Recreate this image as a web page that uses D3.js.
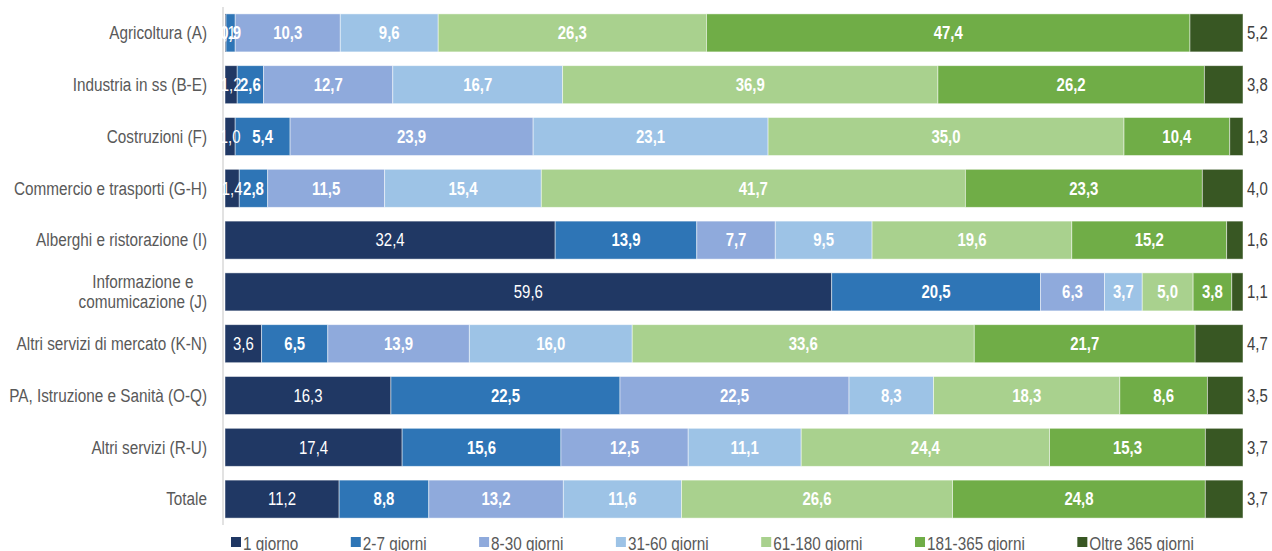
<!DOCTYPE html>
<html>
<head>
<meta charset="utf-8">
<script src="https://cdn.jsdelivr.net/npm/d3@7/dist/d3.min.js"></script>
<style>
  html, body { margin: 0; padding: 0; background: #fff; }
  svg { display: block; }
  text { font-family: "Liberation Sans Narrow", "Arial Narrow", "Liberation Sans", Arial, sans-serif; }
</style>
</head>
<body>
<svg id="chart" width="1272" height="551"></svg>
<script>
(function() {
  'use strict';

  // settori (righe del grafico)
  var categories = [
    'Agricoltura (A)',
    'Industria in ss (B-E)',
    'Costruzioni (F)',
    'Commercio e trasporti (G-H)',
    'Alberghi e ristorazione (I)',
    'Informazione e\ncomumicazione (J)',
    'Altri servizi di mercato (K-N)',
    'PA, Istruzione e Sanità (O-Q)',
    'Altri servizi (R-U)',
    'Totale'
  ];

  var seriesNames = ['1 giorno', '2-7 giorni', '8-30 giorni', '31-60 giorni',
    '61-180 giorni', '181-365 giorni', 'Oltre 365 giorni'];

  var giorno1   = [0.1, 1.2, 1.0, 1.4, 32.4, 59.6, 3.6, 16.3, 17.4, 11.2];
  var giorni2_7 = [0.9, 2.6, 5.4, 2.8, 13.9, 20.5, 6.5, 22.5, 15.6, 8.8];
  var giorni8_30 = [10.3, 12.7, 23.9, 11.5, 7.7, 6.3, 13.9, 22.5, 12.5, 13.2];
  var giorni31_60 = [9.6, 16.7, 23.1, 15.4, 9.5, 3.7, 16.0, 8.3, 11.1, 11.6];
  var giorni61_180 = [26.3, 36.9, 35.0, 41.7, 19.6, 5.0, 33.6, 18.3, 24.4, 26.6];
  var giorni181_365 = [47.4, 26.2, 10.4, 23.3, 15.2, 3.8, 21.7, 8.6, 15.3, 24.8];
  var oltre365 = [5.2, 3.8, 1.3, 4.0, 1.6, 1.1, 4.7, 3.5, 3.7, 3.7];

  var seriesValues = [giorno1, giorni2_7, giorni8_30, giorni31_60,
    giorni61_180, giorni181_365, oltre365];

  var colors = ['#203864', '#2e75b6', '#8faadc', '#9dc3e6', '#a9d18e', '#70ad47', '#385723'];

  var NARROW = 0.85; // no Arial Narrow here, squeeze the glyphs instead

  var svg = d3.select('#chart');
  var fmt = function(v) { return v.toFixed(1).replace('.', ','); };

  function condense(node, k) {
    var len = node.getComputedTextLength() * (k || NARROW);
    d3.select(node)
      .attr('textLength', len)
      .attr('lengthAdjust', 'spacingAndGlyphs');
    return len;
  }

  // table for d3.stack
  var rows = categories.map(function(c, i) {
    var r = { cat: c };
    seriesNames.forEach(function(s, j) { r[s] = seriesValues[j][i]; });
    return r;
  });

  var stack = d3.stack()
    .keys(seriesNames)
    .offset(d3.stackOffsetExpand);
  var layers = stack(rows);

  var x = d3.scaleLinear().domain([0, 1]).range([225, 1243]);
  var y = d3.scaleBand()
    .domain(categories)
    .range([7, 525])
    .paddingInner(0.266)
    .paddingOuter(0.133);

  // axis line
  svg.append('line')
    .attr('x1', 223).attr('x2', 223)
    .attr('y1', 7).attr('y2', 525)
    .attr('stroke', '#d9d9d9')
    .attr('stroke-width', 1.5);

  var g = svg.append('g');

  var layer = g.selectAll('g.layer')
    .data(layers)
    .enter().append('g')
    .attr('class', 'layer')
    .attr('fill', function(d, i) { return colors[i]; });

  layer.selectAll('rect')
    .data(function(d) { return d; })
    .enter().append('rect')
    .attr('x', function(d) { return x(d[0]); })
    .attr('y', function(d) { return y(d.data.cat); })
    .attr('width', function(d) { return x(d[1]) - x(d[0]); })
    .attr('height', y.bandwidth())
    .attr('stroke', '#ffffff')
    .attr('stroke-opacity', 0.6)
    .attr('stroke-width', 0.8);

  // value labels
  layers.forEach(function(L, i) {
    var last = i === layers.length - 1;
    g.append('g').selectAll('text')
      .data(L)
      .enter().append('text')
      .attr('x', function(d) { return last ? x(1) + 4 : (x(d[0]) + x(d[1])) / 2; })
      .attr('y', function(d) { return y(d.data.cat) + y.bandwidth() / 2; })
      .attr('dy', '0.35em')
      .attr('text-anchor', last ? 'start' : 'middle')
      .attr('font-size', 18)
      .attr('font-weight', (i === 0 || last) ? 'normal' : 'bold')
      .attr('fill', last ? '#404040' : '#ffffff')
      .text(function(d) { return fmt(d.data[L.key]); })
      .each(function() { condense(this, 0.83); });
  });

  // category labels (multi-line centred, block right aligned)
  var catG = svg.append('g');
  categories.forEach(function(c) {
    var lines = c.split('\n');
    var cy = y(c) + y.bandwidth() / 2;
    var t = catG.append('text')
      .attr('font-size', 18)
      .attr('fill', '#595959')
      .attr('text-anchor', 'middle');
    lines.forEach(function(l, k) {
      t.append('tspan')
        .attr('y', cy + (k - (lines.length - 1) / 2) * 20)
        .attr('dy', '0.35em')
        .text(l);
    });
    var w = 0;
    t.selectAll('tspan').each(function() { w = Math.max(w, condense(this)); });
    t.selectAll('tspan').attr('x', 207 - w / 2);
  });

  // legend
  var leg = svg.append('g');
  var lx = 231;
  seriesNames.forEach(function(s, i) {
    leg.append('rect')
      .attr('x', lx).attr('y', 537)
      .attr('width', 10).attr('height', 10)
      .attr('fill', colors[i]);
    var t = leg.append('text')
      .attr('x', lx + 12).attr('y', 550)
      .attr('font-size', 18)
      .attr('fill', '#595959')
      .text(s);
    lx += 12 + condense(t.node()) + 52.5;
  });
})();
</script>
</body>
</html>
